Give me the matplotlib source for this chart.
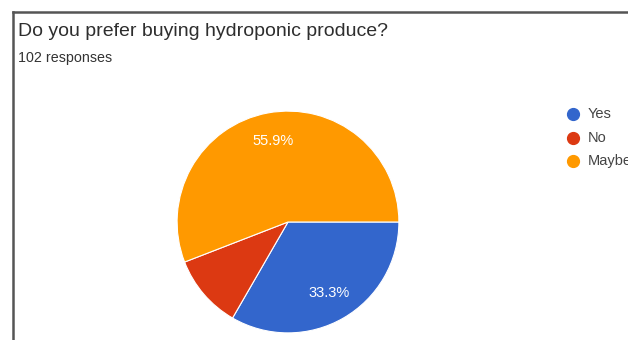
import matplotlib.pyplot as plt
from matplotlib.lines import Line2D

# survey answers
labels = ["Yes", "No", "Maybe"]
counts = [34, 11, 57]
colors = ["#3366CC", "#DC3912", "#FF9900"]
title = "Do you prefer buying hydroponic produce?"
subtitle = "102 responses"

W, H = 628, 340
plt.rcParams["font.family"] = ["Liberation Sans", "DejaVu Sans"]

fig = plt.figure(figsize=(W / 100, H / 100), dpi=100)

# card frame (top and left edges)
fig.add_artist(Line2D([13 / W, 1], [1 - 12 / H, 1 - 12 / H], color="#555555", lw=1.8))
fig.add_artist(Line2D([13 / W, 13 / W], [0, 1 - 12 / H], color="#555555", lw=1.8))

fig.text(18 / W, 1 - 31 / H, title, fontsize=14, color="#2e2e2e", va="center")
fig.text(18 / W, 1 - 58 / H, subtitle, fontsize=10.3, color="#333333", va="center")

# pie, centre (288, 222) px, radius 112 px
cx, cy, r = 288, 222, 112
ax = fig.add_axes([(cx - r) / W, (H - cy - r) / H, 2 * r / W, 2 * r / H])


def pct(p):
    return f"{p:.1f}%" if p > 15 else ""


wedges, _, autotexts = ax.pie(
    counts, colors=colors, startangle=0, counterclock=False,
    autopct=pct, pctdistance=0.74,
    wedgeprops=dict(edgecolor="white", linewidth=0.8),
    textprops=dict(color="white", fontsize=10.5),
)
ax.set_xlim(-1.01, 1.01)
ax.set_ylim(-1.01, 1.01)
ax.set_aspect("equal")
ax.axis("off")

# legend
for i, (lab, col) in enumerate(zip(labels, colors)):
    y = 1 - (114 + 23.5 * i) / H
    fig.add_artist(Line2D([573 / W], [y], marker="o", markersize=8.5,
                          color=col, linestyle="none"))
    fig.text(588 / W, y, lab, fontsize=10.5, color="#444444", va="center")

fig.savefig("out.png", dpi=100)
